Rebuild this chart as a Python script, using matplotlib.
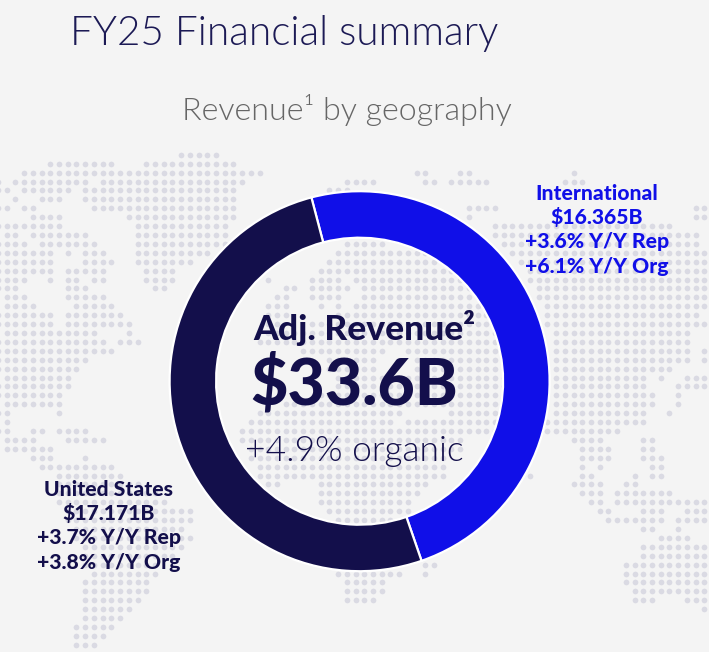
import matplotlib
matplotlib.use("Agg")
import matplotlib.pyplot as plt
from matplotlib import font_manager as fm

W, H = 709, 652
BG = "#F4F4F4"
NAVY = "#130F4B"
BLUE = "#100FE8"
DOT = "#DADAE3"
GRAY = "#666666"

# Revenue split, $B
segments = ["International", "United States"]
revenue = [16.365, 17.171]
segment_colors = [BLUE, NAVY]

intl_lines = ["International", "$16.365B", "+3.6% Y/Y Rep", "+6.1% Y/Y Org"]
us_lines = ["United States", "$17.171B", "+3.7% Y/Y Rep", "+3.8% Y/Y Org"]

# Dotted world map: grid row -> runs of occupied columns
map_runs = {
    -1: [(20, 24)],
    0: [(5, 12), (16, 26)],
    1: [(2, 29), (47, 48), (52, 53), (65, 65)],
    2: [(-1, -1), (1, 9), (11, 27), (39, 42), (48, 49), (51, 55), (64, 66)],
    3: [(-1, 0), (2, 7), (9, 26), (37, 39)],
    4: [(1, 1), (4, 6), (9, 26)],
    5: [(-1, 0), (2, 3), (10, 26), (53, 56), (79, 80)],
    6: [(3, 6), (14, 26), (53, 53), (79, 80)],
    7: [(-1, 6), (15, 25), (56, 76)],
    8: [(0, 1), (3, 9), (15, 25), (56, 79)],
    9: [(-1, 2), (4, 10), (15, 25), (39, 43), (57, 79)],
    10: [(-1, 5), (7, 7), (9, 11), (15, 23), (38, 55), (58, 80)],
    11: [(-1, 5), (9, 12), (15, 21), (37, 55), (59, 80)],
    12: [(-1, 5), (7, 11), (16, 19), (36, 55), (60, 80)],
    13: [(-1, 2), (5, 5), (7, 8), (10, 11), (16, 19), (30, 30), (35, 38), (40, 55), (60, 80)],
    14: [(-1, 1), (7, 9), (17, 18), (32, 33), (35, 39), (41, 55), (61, 80)],
    15: [(0, 2), (7, 11), (31, 32), (35, 38), (41, 55), (61, 80)],
    16: [(0, 3), (8, 12), (30, 32), (36, 36), (38, 38), (40, 56), (62, 80)],
    17: [(-1, 5), (7, 13), (30, 32), (38, 39), (40, 57), (62, 79)],
    18: [(-1, 5), (7, 14), (30, 31), (35, 57), (62, 80)],
    19: [(0, 10), (14, 14), (30, 58), (63, 78)],
    20: [(-1, 11), (13, 15), (29, 58), (63, 78)],
    21: [(-1, 12), (34, 43), (46, 60), (63, 78), (80, 80)],
    22: [(-1, 9), (37, 42), (47, 60), (63, 78), (80, 80)],
    23: [(-1, 8), (37, 42), (47, 60), (63, 76)],
    24: [(0, 7), (38, 60), (63, 73), (75, 75), (78, 80)],
    25: [(-1, 7), (38, 60), (63, 73), (77, 80)],
    26: [(-1, 6), (36, 60), (63, 74), (77, 77)],
    27: [(0, 6), (32, 60), (63, 74), (77, 77)],
    28: [(-1, 0), (6, 6), (29, 45), (51, 60), (63, 73), (76, 76)],
    29: [(0, 0), (28, 44), (46, 50), (51, 60), (62, 73)],
    30: [(-1, 0), (3, 4), (6, 9), (27, 60), (62, 70)],
    31: [(0, 3), (7, 11), (27, 52), (65, 68), (73, 74)],
    32: [(0, 5), (28, 52), (66, 69), (73, 74)],
    33: [(3, 5), (9, 9), (28, 50), (66, 69), (73, 75)],
    34: [(4, 12), (29, 50), (66, 66), (68, 68), (74, 75)],
    35: [(6, 13), (29, 50), (60, 60), (66, 67), (72, 72), (74, 75)],
    36: [(6, 15), (30, 31), (36, 48), (65, 68), (71, 72)],
    37: [(6, 17), (36, 47), (66, 68), (70, 76)],
    38: [(6, 18), (36, 46), (67, 68), (70, 80)],
    39: [(7, 21), (37, 46), (68, 69), (73, 75), (78, 80)],
    40: [(7, 21), (38, 44), (69, 75), (77, 80)],
    41: [(8, 20), (73, 74), (77, 77)],
    42: [(8, 21), (75, 78)],
    43: [(9, 20), (73, 80)],
    44: [(9, 19), (73, 80)],
    45: [(9, 17), (48, 49), (71, 80)],
    46: [(10, 17), (38, 45), (48, 48), (71, 80)],
    47: [(9, 16), (39, 43), (71, 80)],
    48: [(9, 16), (39, 43), (72, 80)],
    49: [(9, 15), (39, 42), (72, 74), (78, 80)],
    50: [(9, 14), (80, 80)],
    51: [(9, 13)],
    52: [(8, 12)],
    53: [(8, 11)],
    54: [(8, 10)],
}


def lato(style):
    """Pick a specific Lato cut by file name, falling back to the regular one."""
    for font in fm.fontManager.ttflist:
        if font.fname.endswith(f"Lato-{style}.ttf"):
            return fm.FontProperties(fname=font.fname)
    return fm.FontProperties(family="Lato")


LIGHT = lato("Light")
BLACK = lato("Black")

fig = plt.figure(figsize=(W / 100, H / 100), dpi=100, facecolor=BG)
ax = fig.add_axes([0, 0, 1, 1])
ax.set_xlim(0, W)
ax.set_ylim(0, H)
ax.axis("off")


def top(y):
    """Convert a distance from the top edge into axes height."""
    return H - y


# Background dot map
xs, ys = [], []
for row, runs in map_runs.items():
    for first, last in runs:
        for col in range(first, last + 1):
            xs.append(6.7 + 8.72 * col)
            ys.append(top(154.8 if row == -1 else 163.7 + 8.91 * row))
ax.scatter(xs, ys, s=17, color=DOT, linewidths=0, zorder=1)

# Revenue ring, clockwise from just left of twelve o'clock
ax.pie(
    revenue,
    colors=segment_colors,
    startangle=104.7,
    counterclock=False,
    center=(359.6, top(381.2)),
    radius=190,
    frame=True,
    wedgeprops=dict(width=46.5, edgecolor="white", linewidth=1.6, zorder=2),
)
ax.set_xlim(0, W)
ax.set_ylim(0, H)
ax.set_aspect("auto")
ax.axis("off")


def sized(font, size):
    copy = font.copy()
    copy.set_size(size)
    return copy


for x, y, s, size, color, font in [
    (284.5, 33, "FY25 Financial summary", 29.2, "#1C1A55", LIGHT),
    (347, 110, "Revenue¹ by geography", 23.2, GRAY, LIGHT),
    (364, 328, "Adj. Revenue²", 25.5, NAVY, BLACK),
    (354, 385, "$33.6B", 46.5, NAVY, BLACK),
    (354, 451, "+4.9% organic", 25.5, NAVY, LIGHT),
]:
    ax.text(x, top(y), s, color=color, fontproperties=sized(font, size),
            ha="center", va="center", zorder=3)

for i, s in enumerate(intl_lines):
    ax.text(597, top(193 + 24.4 * i), s, color=BLUE, fontproperties=sized(BLACK, 15.2),
            ha="center", va="center", zorder=3)
for i, s in enumerate(us_lines):
    ax.text(109, top(489 + 24.4 * i), s, color=NAVY, fontproperties=sized(BLACK, 15.2),
            ha="center", va="center", zorder=3)

fig.savefig("out.png", dpi=100, facecolor=BG)
